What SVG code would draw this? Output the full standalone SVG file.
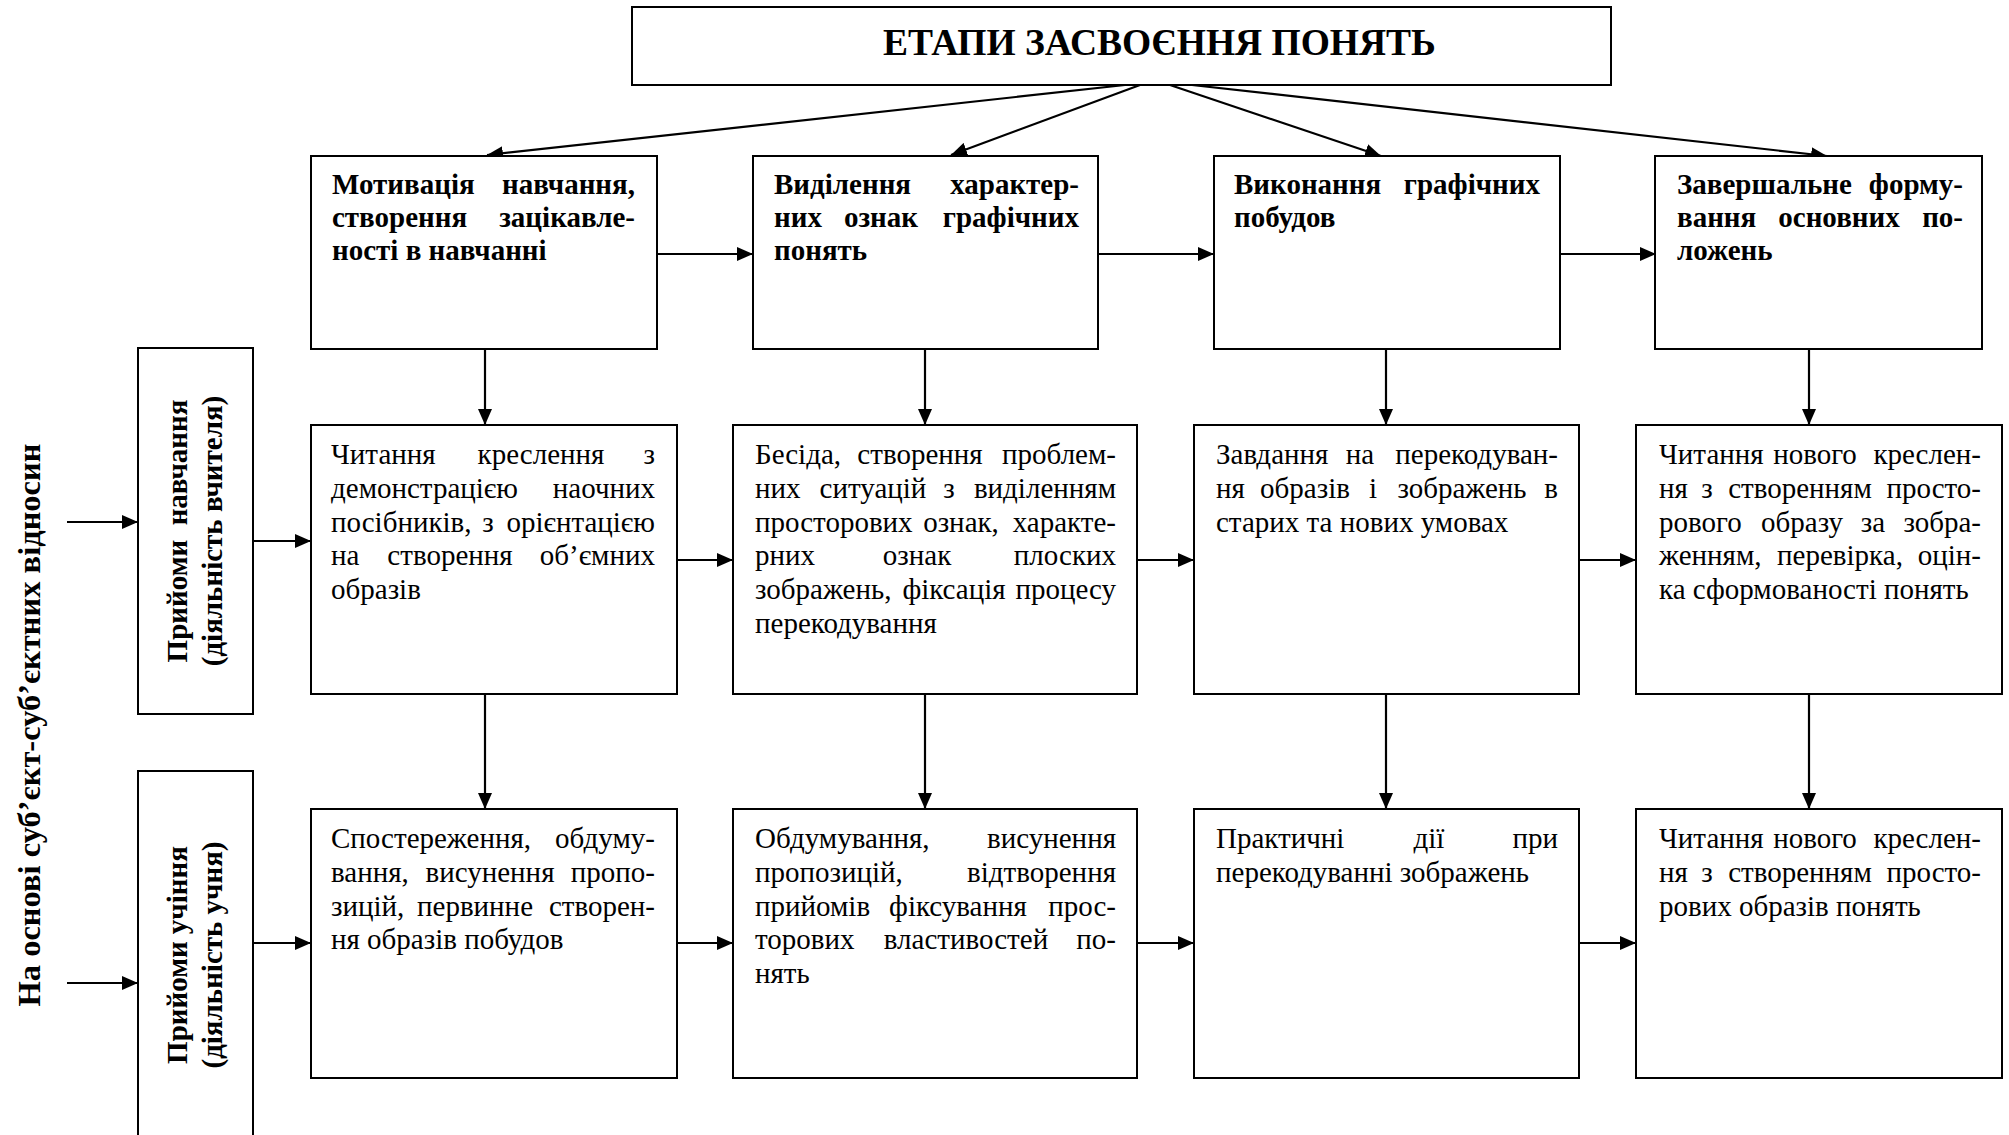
<svg xmlns="http://www.w3.org/2000/svg" width="2009" height="1135" viewBox="0 0 2009 1135">
  <style>
    .box { fill: #fff; stroke: #000; stroke-width: 2; }
    .t { font-family: "Liberation Serif", "Times New Roman", serif; font-size: 29px; fill: #000; }
    .b { font-weight: bold; }
    .title { font-family: "Liberation Serif", "Times New Roman", serif; font-size: 37.5px; font-weight: bold; fill: #000; }
    .side { font-family: "Liberation Serif", "Times New Roman", serif; font-size: 32.5px; font-weight: bold; fill: #000; }
    .conn line { stroke: #000; stroke-width: 2.2; marker-end: url(#ah); }
    .e { text-anchor: end; }
    .m { text-anchor: middle; }
  </style>
  <defs>
    <marker id="ah" markerUnits="userSpaceOnUse" markerWidth="17" markerHeight="14" refX="16" refY="7" orient="auto">
      <path d="M0,0 L16,7 L0,14 z" fill="#000"/>
    </marker>
  </defs>
  <rect width="2009" height="1135" fill="#fff"/>

  <!-- connectors -->
  <g class="conn" id="connectors">
    <!-- from the title to the four stages -->
    <line x1="1125" y1="85" x2="487" y2="155"/>
    <line x1="1140" y1="85" x2="951" y2="155"/>
    <line x1="1170" y1="85" x2="1381" y2="156"/>
    <line x1="1192" y1="85" x2="1827" y2="156"/>
    <!-- stage row -->
    <line x1="657" y1="254" x2="753" y2="254"/>
    <line x1="1098" y1="254" x2="1214" y2="254"/>
    <line x1="1560" y1="254" x2="1656" y2="254"/>
    <!-- teacher row -->
    <line x1="677" y1="560" x2="733" y2="560"/>
    <line x1="1137" y1="560" x2="1194" y2="560"/>
    <line x1="1579" y1="560" x2="1636" y2="560"/>
    <!-- student row -->
    <line x1="677" y1="943" x2="733" y2="943"/>
    <line x1="1137" y1="943" x2="1194" y2="943"/>
    <line x1="1579" y1="943" x2="1636" y2="943"/>
    <!-- verticals stage -> teacher -->
    <line x1="485" y1="349" x2="485" y2="425"/>
    <line x1="925" y1="349" x2="925" y2="425"/>
    <line x1="1386" y1="349" x2="1386" y2="425"/>
    <line x1="1809" y1="349" x2="1809" y2="425"/>
    <!-- verticals teacher -> student -->
    <line x1="485" y1="694" x2="485" y2="809"/>
    <line x1="925" y1="694" x2="925" y2="809"/>
    <line x1="1386" y1="694" x2="1386" y2="809"/>
    <line x1="1809" y1="694" x2="1809" y2="809"/>
    <!-- left side -->
    <line x1="67" y1="522" x2="138" y2="522"/>
    <line x1="67" y1="983" x2="138" y2="983"/>
    <line x1="253" y1="541" x2="311" y2="541"/>
    <line x1="253" y1="943" x2="311" y2="943"/>
  </g>

  <!-- title -->
  <g id="title">
    <rect class="box" x="632" y="7" width="979" height="78"/>
    <text class="title" x="883" y="55">ЕТАПИ ЗАСВОЄННЯ ПОНЯТЬ</text>
  </g>

  <!-- vertical caption -->
  <g id="basis">
    <text class="side m" transform="translate(40,725) rotate(-90)">На основі суб’єкт-суб’єктних відносин</text>
  </g>

  <g id="teacher">
    <rect class="box" x="138" y="348" width="115" height="366"/>
    <text class="t b m" transform="translate(187,531) rotate(-90)" xml:space="preserve">Прийоми  навчання</text>
    <text class="t b m" transform="translate(222,531) rotate(-90)">(діяльність вчителя)</text>
  </g>

  <g id="student">
    <rect class="box" x="138" y="771" width="115" height="400"/>
    <text class="t b m" transform="translate(187,955) rotate(-90)">Прийоми учіння</text>
    <text class="t b m" transform="translate(222,955) rotate(-90)">(діяльність учня)</text>
  </g>

  <!-- stages -->
  <g id="stage1">
    <rect class="box" x="311" y="156" width="346" height="193"/>
    <text class="t b" y="194"><tspan x="332">Мотивація</tspan><tspan x="635" class="e">навчання,</tspan></text>
    <text class="t b" y="227"><tspan x="332">створення</tspan><tspan x="635" class="e">зацікавле-</tspan></text>
    <text class="t b" x="332" y="260">ності в навчанні</text>
  </g>
  <g id="stage2">
    <rect class="box" x="753" y="156" width="345" height="193"/>
    <text class="t b" y="194"><tspan x="774">Виділення</tspan><tspan x="1079" class="e">характер-</tspan></text>
    <text class="t b" y="227"><tspan x="774">них</tspan><tspan x="881" class="m">ознак</tspan><tspan x="1079" class="e">графічних</tspan></text>
    <text class="t b" x="774" y="260">понять</text>
  </g>
  <g id="stage3">
    <rect class="box" x="1214" y="156" width="346" height="193"/>
    <text class="t b" y="194"><tspan x="1234">Виконання</tspan><tspan x="1540" class="e">графічних</tspan></text>
    <text class="t b" x="1234" y="227">побудов</text>
  </g>
  <g id="stage4">
    <rect class="box" x="1655" y="156" width="327" height="193"/>
    <text class="t b" y="194"><tspan x="1677">Завершальне</tspan><tspan x="1963" class="e">форму-</tspan></text>
    <text class="t b" y="227"><tspan x="1677">вання</tspan><tspan x="1839" class="m">основних</tspan><tspan x="1963" class="e">по-</tspan></text>
    <text class="t b" x="1677" y="260">ложень</text>
  </g>

  <!-- teaching methods -->
  <g id="teach1">
    <rect class="box" x="311" y="425" width="366" height="269"/>
    <text class="t" y="464"><tspan x="331">Читання</tspan><tspan x="541" class="m">креслення</tspan><tspan x="655" class="e">з</tspan></text>
    <text class="t" y="498"><tspan x="331">демонстрацією</tspan><tspan x="655" class="e">наочних</tspan></text>
    <text class="t" y="532"><tspan x="331">посібників,</tspan><tspan x="488" class="m">з</tspan><tspan x="655" class="e">орієнтацією</tspan></text>
    <text class="t" y="565"><tspan x="331">на</tspan><tspan x="450" class="m">створення</tspan><tspan x="655" class="e">об’ємних</tspan></text>
    <text class="t" x="331" y="599">образів</text>
  </g>
  <g id="teach2">
    <rect class="box" x="733" y="425" width="404" height="269"/>
    <text class="t" y="464"><tspan x="755">Бесіда,</tspan><tspan x="920" class="m">створення</tspan><tspan x="1116" class="e">проблем-</tspan></text>
    <text class="t" y="498"><tspan x="755">них</tspan><tspan x="873" class="m">ситуацій</tspan><tspan x="949" class="m">з</tspan><tspan x="1116" class="e">виділенням</tspan></text>
    <text class="t" y="532"><tspan x="755">просторових</tspan><tspan x="961" class="m">ознак,</tspan><tspan x="1116" class="e">характе-</tspan></text>
    <text class="t" y="565"><tspan x="755">рних</tspan><tspan x="917" class="m">ознак</tspan><tspan x="1116" class="e">плоских</tspan></text>
    <text class="t" y="599"><tspan x="755">зображень,</tspan><tspan x="954" class="m">фіксація</tspan><tspan x="1116" class="e">процесу</tspan></text>
    <text class="t" x="755" y="633">перекодування</text>
  </g>
  <g id="teach3">
    <rect class="box" x="1194" y="425" width="385" height="269"/>
    <text class="t" y="464"><tspan x="1216">Завдання</tspan><tspan x="1360" class="m">на</tspan><tspan x="1558" class="e">перекодуван-</tspan></text>
    <text class="t" y="498"><tspan x="1216">ня</tspan><tspan x="1305" class="m">образів</tspan><tspan x="1373" class="m">і</tspan><tspan x="1462" class="m">зображень</tspan><tspan x="1558" class="e">в</tspan></text>
    <text class="t" x="1216" y="532">старих та нових умовах</text>
  </g>
  <g id="teach4">
    <rect class="box" x="1636" y="425" width="366" height="269"/>
    <text class="t" y="464"><tspan x="1659">Читання</tspan><tspan x="1815" class="m">нового</tspan><tspan x="1981" class="e">креслен-</tspan></text>
    <text class="t" y="498"><tspan x="1659">ня</tspan><tspan x="1707" class="m">з</tspan><tspan x="1800" class="m">створенням</tspan><tspan x="1981" class="e">просто-</tspan></text>
    <text class="t" y="532"><tspan x="1659">рового</tspan><tspan x="1802" class="m">образу</tspan><tspan x="1873" class="m">за</tspan><tspan x="1981" class="e">зобра-</tspan></text>
    <text class="t" y="565"><tspan x="1659">женням,</tspan><tspan x="1840" class="m">перевірка,</tspan><tspan x="1981" class="e">оцін-</tspan></text>
    <text class="t" x="1659" y="599">ка сформованості понять</text>
  </g>

  <!-- learning methods -->
  <g id="learn1">
    <rect class="box" x="311" y="809" width="366" height="269"/>
    <text class="t" y="848"><tspan x="331">Спостереження,</tspan><tspan x="655" class="e">обдуму-</tspan></text>
    <text class="t" y="882"><tspan x="331">вання,</tspan><tspan x="490" class="m">висунення</tspan><tspan x="655" class="e">пропо-</tspan></text>
    <text class="t" y="916"><tspan x="331">зицій,</tspan><tspan x="475" class="m">первинне</tspan><tspan x="655" class="e">створен-</tspan></text>
    <text class="t" x="331" y="949">ня образів побудов</text>
  </g>
  <g id="learn2">
    <rect class="box" x="733" y="809" width="404" height="269"/>
    <text class="t" y="848"><tspan x="755">Обдумування,</tspan><tspan x="1116" class="e">висунення</tspan></text>
    <text class="t" y="882"><tspan x="755">пропозицій,</tspan><tspan x="1116" class="e">відтворення</tspan></text>
    <text class="t" y="916"><tspan x="755">прийомів</tspan><tspan x="958" class="m">фіксування</tspan><tspan x="1116" class="e">прос-</tspan></text>
    <text class="t" y="949"><tspan x="755">торових</tspan><tspan x="966" class="m">властивостей</tspan><tspan x="1116" class="e">по-</tspan></text>
    <text class="t" x="755" y="983">нять</text>
  </g>
  <g id="learn3">
    <rect class="box" x="1194" y="809" width="385" height="269"/>
    <text class="t" y="848"><tspan x="1216">Практичні</tspan><tspan x="1429" class="m">дії</tspan><tspan x="1558" class="e">при</tspan></text>
    <text class="t" x="1216" y="882">перекодуванні зображень</text>
  </g>
  <g id="learn4">
    <rect class="box" x="1636" y="809" width="366" height="269"/>
    <text class="t" y="848"><tspan x="1659">Читання</tspan><tspan x="1815" class="m">нового</tspan><tspan x="1981" class="e">креслен-</tspan></text>
    <text class="t" y="882"><tspan x="1659">ня</tspan><tspan x="1707" class="m">з</tspan><tspan x="1800" class="m">створенням</tspan><tspan x="1981" class="e">просто-</tspan></text>
    <text class="t" x="1659" y="916">рових образів понять</text>
  </g>
</svg>
